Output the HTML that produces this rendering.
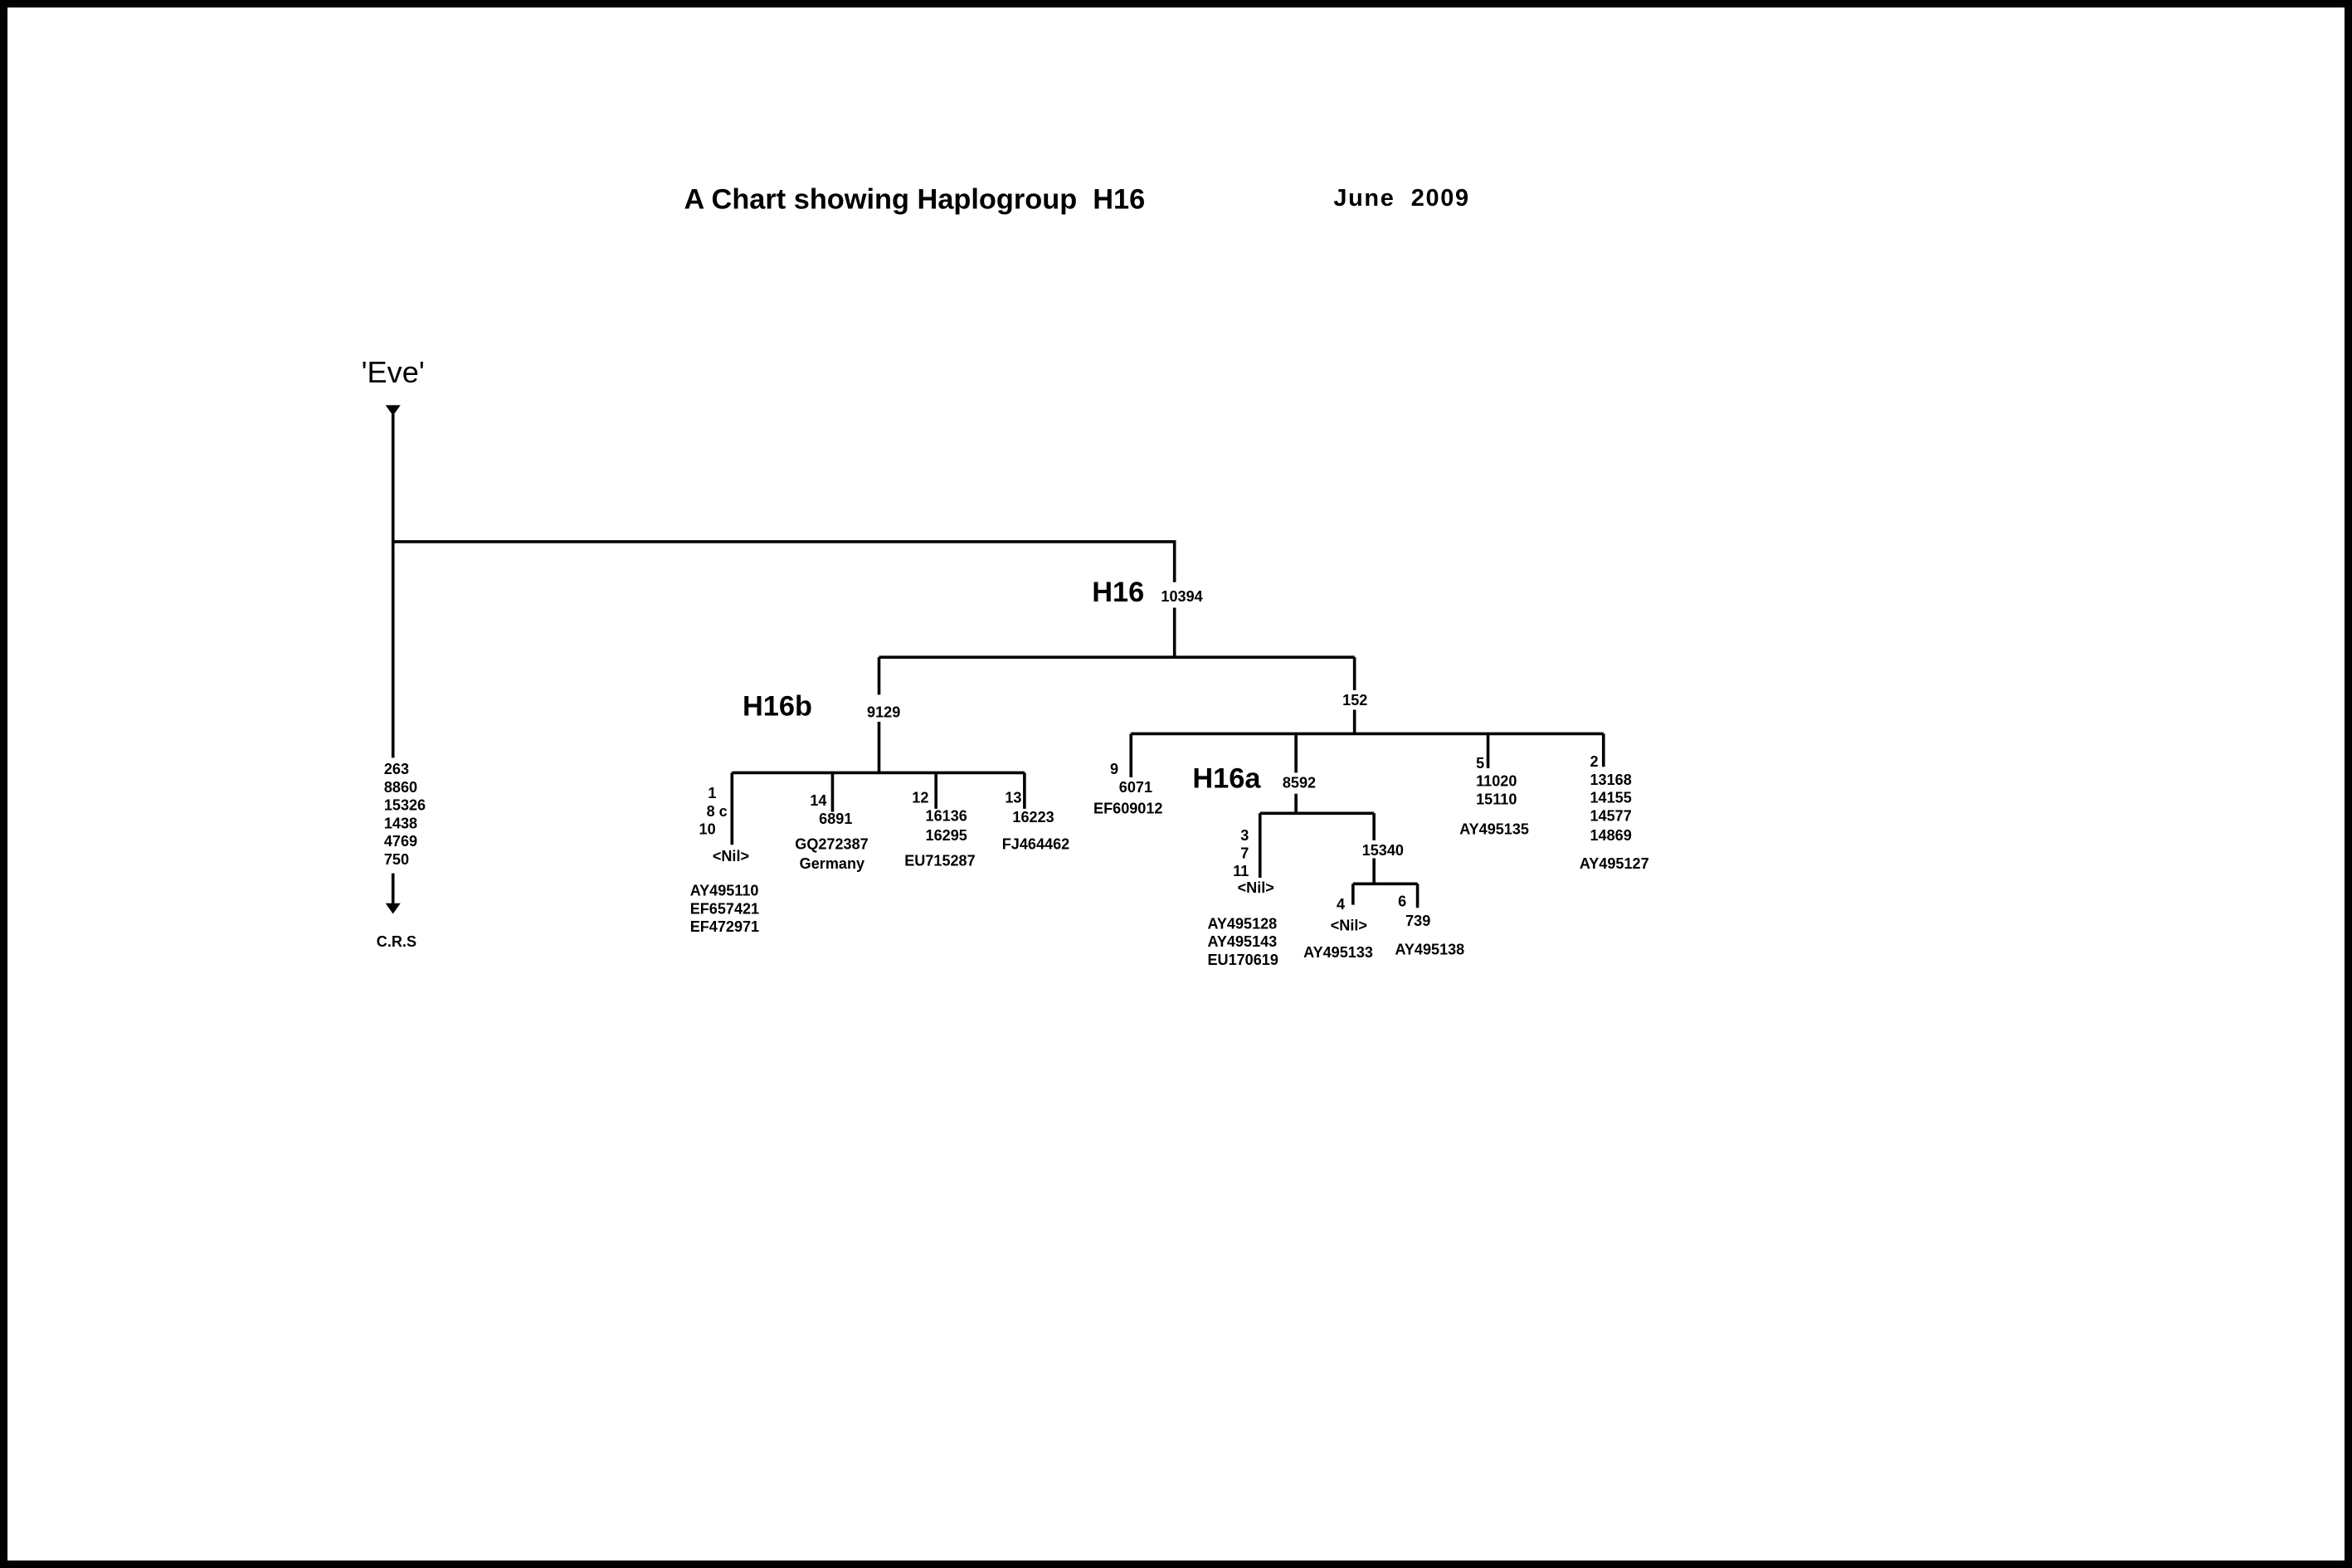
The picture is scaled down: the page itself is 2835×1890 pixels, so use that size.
<!DOCTYPE html>
<html><head><style>html,body{margin:0;padding:0;background:#fff}svg{display:block}</style></head>
<body>
<svg width="2835" height="1890" viewBox="0 0 1568 1045" preserveAspectRatio="none" xmlns="http://www.w3.org/2000/svg" font-family="Liberation Sans, Arial, sans-serif" font-weight="bold">
<rect x="0" y="0" width="1568" height="1045" fill="#fff"/>
<rect x="2.5" y="2.5" width="1563" height="1040" fill="none" stroke="#000" stroke-width="5"/>
<text x="456" y="139" font-size="19">A Chart showing Haplogroup&#160;&#160;H16</text>
<text x="889" y="137" font-size="16" textLength="90">June&#160;&#160;2009</text>
<text x="262" y="255" font-size="20" font-weight="normal" text-anchor="middle">'Eve'</text>
<g stroke="#000" stroke-width="2" fill="none">
<path d="M262 276V505 M262 361H783V388 M783 405V438 M586 438H903 M586 438V463 M586 481V515 M903 438V460 M903 473V489
M488 515H683 M488 515V563 M555 515V541 M624 515V539 M683 515V539
M754 489H1069 M754 489V518 M864 489V515 M864 529V542 M840 542H916 M840 542V585 M916 542V560 M916 572V589 M902 589H945 M902 589V603 M945 589V605 M992 489V512 M1069 489V511
M262 582V603"/>
</g>
<path d="M257 270H267L262 277Z" fill="#000"/>
<path d="M257 602H267L262 609Z" fill="#000"/>
<g font-size="10">
<text x="256" y="516">263</text><text x="256" y="528">8860</text><text x="256" y="540">15326</text><text x="256" y="552">1438</text><text x="256" y="564">4769</text><text x="256" y="576">750</text>
<text x="251" y="631">C.R.S</text>
<text x="774" y="401">10394</text>
<text x="578" y="478">9129</text>
<text x="895" y="470">152</text>
<text x="472" y="532">1</text><text x="471" y="544">8 c</text><text x="466" y="556">10</text>
<text x="475" y="574">&lt;Nil&gt;</text>
<text x="460" y="597">AY495110</text><text x="460" y="609">EF657421</text><text x="460" y="621">EF472971</text>
<text x="540" y="537">14</text><text x="546" y="549">6891</text><text x="530" y="566">GQ272387</text><text x="533" y="579">Germany</text>
<text x="608" y="535">12</text><text x="617" y="547">16136</text><text x="617" y="560">16295</text><text x="603" y="577">EU715287</text>
<text x="670" y="535">13</text><text x="675" y="548">16223</text><text x="668" y="566">FJ464462</text>
<text x="740" y="516">9</text><text x="746" y="528">6071</text><text x="729" y="542">EF609012</text>
<text x="855" y="525">8592</text>
<text x="984" y="512">5</text><text x="984" y="524">11020</text><text x="984" y="536">15110</text><text x="973" y="556">AY495135</text>
<text x="1060" y="511">2</text><text x="1060" y="523">13168</text><text x="1060" y="535">14155</text><text x="1060" y="547">14577</text><text x="1060" y="560">14869</text><text x="1053" y="579">AY495127</text>
<text x="827" y="560">3</text><text x="827" y="572">7</text><text x="822" y="584">11</text><text x="825" y="595">&lt;Nil&gt;</text>
<text x="805" y="619">AY495128</text><text x="805" y="631">AY495143</text><text x="805" y="643">EU170619</text>
<text x="908" y="570">15340</text>
<text x="891" y="606">4</text><text x="887" y="620">&lt;Nil&gt;</text><text x="869" y="638">AY495133</text>
<text x="932" y="604">6</text><text x="937" y="617">739</text><text x="930" y="636">AY495138</text>
</g>
<text x="728" y="401" font-size="19">H16</text>
<text x="495" y="477" font-size="19">H16b</text>
<text x="795" y="525" font-size="19">H16a</text>
</svg>
</body></html>
